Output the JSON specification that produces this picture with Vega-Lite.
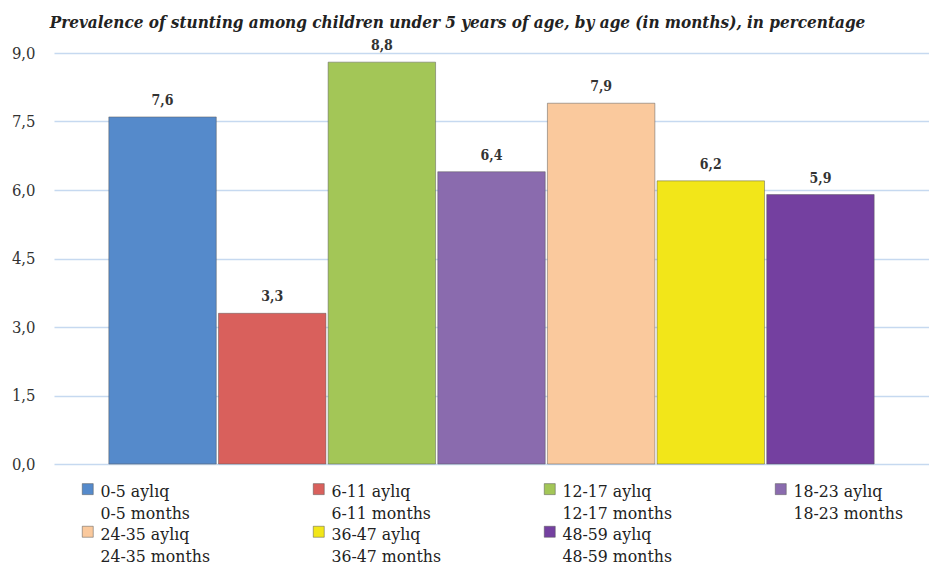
{
  "$schema": "https://vega.github.io/schema/vega-lite/v6.json",
  "autosize": "none",
  "padding": {"left": 54, "top": 53, "right": 0, "bottom": 101},
  "width": 875,
  "height": 411,
  "background": "white",
  "config": {
    "locale": {"number": {"decimal": ",", "thousands": ".", "grouping": [3], "currency": ["", ""]}},
    "view": {"stroke": null}
  },
  "title": {
    "text": "Prevalence of stunting among children under 5 years of age, by age (in months), in percentage",
    "font": "DejaVu Serif Condensed",
    "fontSize": 17,
    "fontStyle": "italic",
    "fontWeight": "bold",
    "color": "#222222",
    "anchor": "middle",
    "frame": "group",
    "dx": -34,
    "offset": 7
  },
  "data": {
    "values": [
      {"group": "0-5 aylıq\n0-5 months", "value": 7.6},
      {"group": "6-11 aylıq\n6-11 months", "value": 3.3},
      {"group": "12-17 aylıq\n12-17 months", "value": 8.8},
      {"group": "18-23 aylıq\n18-23 months", "value": 6.4},
      {"group": "24-35 aylıq\n24-35 months", "value": 7.9},
      {"group": "36-47 aylıq\n36-47 months", "value": 6.2},
      {"group": "48-59 aylıq\n48-59 months", "value": 5.9}
    ]
  },
  "encoding": {
    "x": {
      "field": "group",
      "type": "nominal",
      "sort": null,
      "scale": {"paddingInner": 0.02, "paddingOuter": 0.5},
      "axis": null
    },
    "y": {
      "field": "value",
      "type": "quantitative",
      "scale": {"domain": [0, 9], "nice": false},
      "axis": {
        "values": [0, 1.5, 3, 4.5, 6, 7.5, 9],
        "format": ".1f",
        "title": null,
        "domain": false,
        "ticks": false,
        "labelFont": "DejaVu Serif Condensed",
        "labelFontSize": 16.5,
        "labelColor": "#333333",
        "labelPadding": 19,
        "gridColor": "#c6d9f0",
        "gridWidth": 1.5
      }
    }
  },
  "layer": [
    {
      "mark": {"type": "bar", "stroke": "#555555", "strokeWidth": 0.8, "strokeOpacity": 0.6},
      "encoding": {
        "color": {
          "field": "group",
          "type": "nominal",
          "sort": null,
          "scale": {
            "range": ["#558acb", "#d9605c", "#a3c657", "#8a6bae", "#fac99d", "#f2e619", "#7440a0"]
          },
          "legend": {
            "title": null,
            "orient": "none",
            "legendX": 25,
            "legendY": 427,
            "direction": "horizontal",
            "columns": 4,
            "gridAlign": "all",
            "columnPadding": 100,
            "rowPadding": 0,
            "symbolType": "square",
            "symbolSize": 121,
            "symbolStrokeColor": "#555555",
            "symbolStrokeWidth": 0.5,
            "labelFont": "DejaVu Serif Condensed",
            "labelFontSize": 17.5,
            "labelColor": "#222222",
            "labelOffset": 4,
            "labelLimit": 200,
            "labelBaseline": "top",
            "labelExpr": "split(datum.label, '\\n')",
            "symbolOffset": 0,
            "encode": {"labels": {"update": {"lineHeight": {"value": 22}, "dy": {"value": -6}}}}
          }
        }
      }
    },
    {
      "mark": {"type": "text", "dy": -16, "font": "DejaVu Serif Condensed", "fontSize": 14, "fontWeight": "bold", "color": "#333333"},
      "encoding": {
        "text": {"field": "value", "type": "quantitative", "format": ".1f"}
      }
    }
  ]
}
